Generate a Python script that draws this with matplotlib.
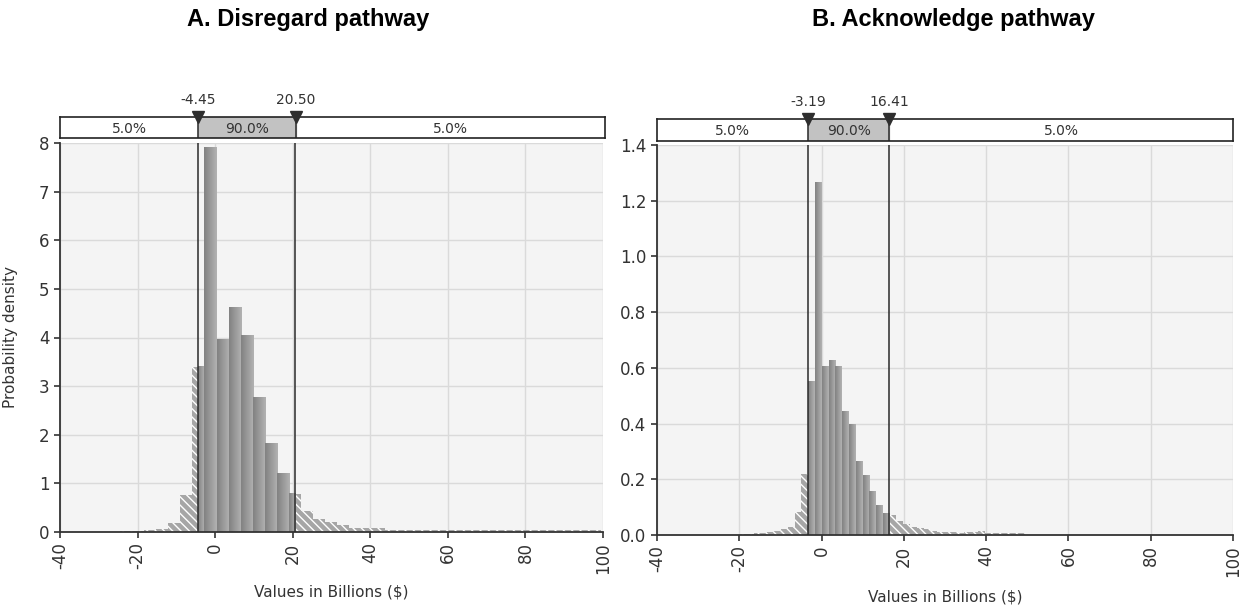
"""Two-panel probability density histograms with 90% band markers."""
import numpy as np
import matplotlib.pyplot as plt
from matplotlib.colors import LinearSegmentedColormap

plt.rcParams["axes.unicode_minus"] = False

# Panel A: Disregard pathway
a_title = "A. Disregard pathway"
a_bin_start = -24.45
a_bin_width = 3.1
a_heights = [0.02, 0.02, 0.04, 0.055, 0.19, 0.77, 3.40, 7.90, 3.96, 4.61,
             4.04, 2.76, 1.81, 1.21, 0.79, 0.44, 0.26, 0.20, 0.14, 0.09,
             0.08, 0.08, 0.05, 0.05, 0.04, 0.035, 0.035, 0.035, 0.035, 0.035,
             0.035, 0.035, 0.035, 0.035, 0.035, 0.035, 0.035, 0.035, 0.035,
             0.035]
a_cutoffs = [-4.45, 20.50]
a_yticks = [0, 1, 2, 3, 4, 5, 6, 7, 8]

# Panel B: Acknowledge pathway
b_title = "B. Acknowledge pathway"
b_bin_start = -19.75
b_bin_width = 1.65
b_heights = [0.004, 0.005, 0.006, 0.008, 0.01, 0.014, 0.02, 0.027, 0.083,
             0.22, 0.55, 1.265, 0.606, 0.625, 0.605, 0.445, 0.395, 0.265,
             0.215, 0.155, 0.105, 0.078, 0.072, 0.05, 0.04, 0.03, 0.025,
             0.02, 0.015, 0.012, 0.01, 0.01, 0.008, 0.01, 0.012, 0.015,
             0.008, 0.006, 0.006, 0.006, 0.006, 0.006]
b_cutoffs = [-3.19, 16.41]
b_yticks = [0.0, 0.2, 0.4, 0.6, 0.8, 1.0, 1.2, 1.4]

band_labels = ["5.0%", "90.0%", "5.0%"]
xticks = [-40, -20, 0, 20, 40, 60, 80, 100]

W, H = 1248, 607
TXT = "#333333"
bar_cmap = LinearSegmentedColormap.from_list("bar", ["#828282", "#b2b2b2"])
grad = np.linspace(0, 1, 32).reshape(1, -1)


def px_rect(l, t, r, b):
    return [l / W, (H - b) / H, (r - l) / W, (b - t) / H]


def draw_panel(fig, rect, box_rect, start, width, heights, cutoffs, yticks,
               yfmt, title, title_x, xlab_y, ylabel=None):
    lo, hi = cutoffs
    ax = fig.add_axes(rect)
    ax.set_facecolor("#f4f4f4")
    ax.set_axisbelow(True)
    ax.grid(True, color="#dadada", lw=1)

    for i, h in enumerate(heights):
        x0 = start + i * width
        x1 = x0 + width
        # hatched tails outside the 90% band
        for a, b in [(x0, min(x1, lo)), (max(x0, hi), x1)]:
            if b > a:
                ax.bar(a, h, width=b - a, align="edge", color="#a6a6a6",
                       edgecolor="white", hatch="\\\\\\\\", linewidth=0,
                       zorder=2)
        a, b = max(x0, lo), min(x1, hi)
        if b > a:
            ax.imshow(grad, cmap=bar_cmap, extent=(a, b, 0, h),
                      aspect="auto", interpolation="bilinear", zorder=2)

    for c in cutoffs:
        ax.axvline(c, color="#2a2a2a", lw=1.1, zorder=4)

    ax.set_xlim(-40, 100)
    ax.set_ylim(0, yticks[-1])
    ax.set_xticks(xticks)
    ax.set_yticks(yticks)
    ax.set_yticklabels([yfmt.format(v) for v in yticks])
    ax.tick_params(axis="x", labelrotation=90)
    ax.tick_params(colors=TXT, labelsize=12, length=4, width=1.2)
    for s in ["top", "right"]:
        ax.spines[s].set_visible(False)
    for s in ["left", "bottom"]:
        ax.spines[s].set_color(TXT)
        ax.spines[s].set_linewidth(1.3)
    ax.set_xlabel("Values in Billions ($)", fontsize=11, color=TXT)
    ax.xaxis.set_label_coords(0.5, xlab_y)
    if ylabel:
        ax.set_ylabel(ylabel, fontsize=11, color=TXT)
        ax.yaxis.set_label_coords(-0.077, 0.5)

    # band box above the plot
    bx = fig.add_axes(box_rect)
    bx.set_xlim(-40, 100)
    bx.set_ylim(0, 1)
    bx.set_xticks([])
    bx.set_yticks([])
    bx.axvspan(lo, hi, color="#c2c2c2")
    for c in cutoffs:
        bx.axvline(c, color="#2a2a2a", lw=1.1)
    for s in bx.spines.values():
        s.set_color("#222222")
        s.set_linewidth(1.2)
    centers = [(-40 + lo) / 2, (lo + hi) / 2, (hi + 100) / 2]
    for cx, lab in zip(centers, band_labels):
        bx.text(cx, 0.45, lab, ha="center", va="center", fontsize=10,
                color=TXT)
    bx.plot(cutoffs, [1, 1], ls="none", marker="v", ms=9, color="#2e2e2e",
            clip_on=False, zorder=5)
    for c in cutoffs:
        bx.annotate(f"{c:.2f}", xy=(c, 1), xytext=(0, 7),
                    textcoords="offset points", ha="center", va="bottom",
                    fontsize=10, color=TXT, annotation_clip=False)

    fig.text(title_x, 0.968, title, ha="center", va="center", fontsize=17,
             fontweight="bold", family="Liberation Sans")
    return ax


fig = plt.figure(figsize=(W / 100, H / 100), dpi=100)
draw_panel(fig, px_rect(60, 143, 603, 532), px_rect(60, 117, 605, 138),
           a_bin_start, a_bin_width, a_heights, a_cutoffs, a_yticks, "{:g}",
           a_title, 0.247, -0.135, ylabel="Probability density")
draw_panel(fig, px_rect(657, 145, 1233, 535), px_rect(657, 119, 1233, 141),
           b_bin_start, b_bin_width, b_heights, b_cutoffs, b_yticks,
           "{:.1f}", b_title, 0.764, -0.14)

fig.savefig("out.png", dpi=100)
